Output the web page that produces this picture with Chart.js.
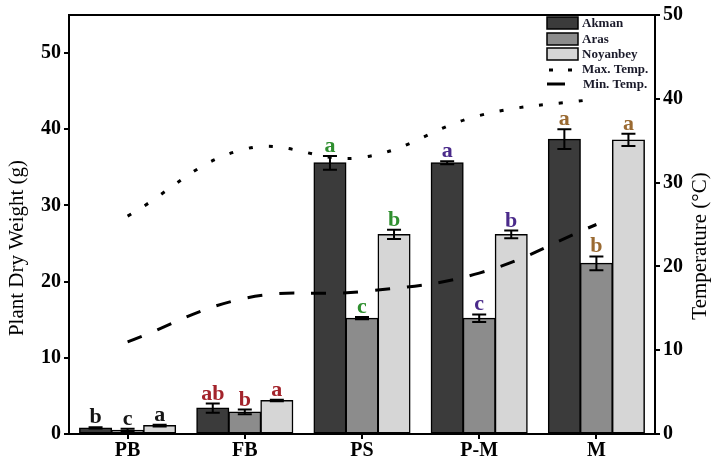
<!DOCTYPE html>
<html><head><meta charset="utf-8">
<script src="https://cdn.jsdelivr.net/npm/chart.js@4.4.1/dist/chart.umd.min.js"></script>
<style>html,body{margin:0;padding:0;background:#fff}#wrap{width:711px;height:459px}</style>
</head><body><div id="wrap"><canvas id="c" width="711" height="459"></canvas></div>
<script>
const categories = ['PB','FB','PS','P-M','M'];
const akman = [0.8, 3.4, 35.6, 35.6, 38.7];
const aras = [0.5, 2.9, 15.2, 15.2, 22.4];
const noyanbey = [1.1, 4.4, 26.2, 26.2, 38.6];
const akmanErr = [0.08, 0.6, 0.9, 0.2, 1.3];
const arasErr = [0.2, 0.3, 0.15, 0.5, 0.9];
const noyanbeyErr = [0.1, 0.1, 0.6, 0.5, 0.8];
const akmanLetters = ['b','ab','a','a','a'];
const arasLetters = ['c','b','c','c','b'];
const noyanbeyLetters = ['a','a','b','b','a'];
const letterColors = ['#151515','#a3232b','#2f8f2f','#4a2a8a','#9a6a32'];
const maxTemp = [26, 34, 33, 38, 40];
const minTemp = [11, 16.2, 17, 19.2, 25];
const leftTicks = [0,10,20,30,40,50];
const rightTicks = [0,10,20,30,40,50];

const errs = [akmanErr, arasErr, noyanbeyErr];
const letters = [akmanLetters, arasLetters, noyanbeyLetters];
const SERIF = '"Liberation Serif","Times New Roman",serif';

const overlay = {
  id:'overlay',
  afterDatasetsDraw(chart){
    const ctx = chart.ctx, ca = chart.chartArea;
    const yS = chart.scales.y;
    for(let d=0; d<3; d++){
      const meta = chart.getDatasetMeta(d);
      meta.data.forEach((bar,i)=>{
        const v = chart.data.datasets[d].data[i];
        const e = errs[d][i];
        const x = bar.x;
        const yt = yS.getPixelForValue(v+e), yb = yS.getPixelForValue(v-e);
        ctx.save();
        ctx.strokeStyle='#000'; ctx.lineWidth=2;
        ctx.beginPath();
        ctx.moveTo(x,yt); ctx.lineTo(x,yb);
        ctx.moveTo(x-7,yt); ctx.lineTo(x+7,yt);
        ctx.moveTo(x-7,yb); ctx.lineTo(x+7,yb);
        ctx.stroke();
        ctx.fillStyle = letterColors[i];
        ctx.font = 'bold 22px '+SERIF;
        ctx.textAlign='center'; ctx.textBaseline='alphabetic';
        ctx.fillText(letters[d][i], x, Math.min(yt, bar.y) - 4);
        ctx.restore();
      });
    }
    ctx.save();
    ctx.strokeStyle='#000'; ctx.lineWidth=2;
    ctx.beginPath(); ctx.moveTo(ca.left, ca.top); ctx.lineTo(ca.right, ca.top); ctx.stroke();
    ctx.fillStyle='#000'; ctx.font='21px '+SERIF; ctx.textAlign='center'; ctx.textBaseline='middle';
    ctx.save(); ctx.translate(17, 248); ctx.rotate(-Math.PI/2); ctx.fillText('Plant Dry Weight (g)',0,0); ctx.restore();
    ctx.save(); ctx.translate(700, 246); ctx.rotate(-Math.PI/2); ctx.fillText('Temperature (°C)',0,0); ctx.restore();
    const lx = 547, tx = 582;
    const fills = ['#3b3b3b','#8c8c8c','#d6d6d6'];
    const names = ['Akman','Aras','Noyanbey'];
    const ys = [17,33,48];
    ctx.font = 'bold 13px '+SERIF; ctx.textBaseline='middle'; ctx.textAlign='left';
    for(let k=0;k<3;k++){
      ctx.fillStyle=fills[k]; ctx.fillRect(lx, ys[k], 31, 12);
      ctx.lineWidth=1.5; ctx.strokeStyle='#000'; ctx.strokeRect(lx, ys[k], 31, 12);
      ctx.fillStyle='#1a1a2a'; ctx.fillText(names[k], tx, ys[k]+7);
    }
    ctx.lineWidth=3; ctx.strokeStyle='#000';
    ctx.beginPath(); ctx.moveTo(549,70); ctx.lineTo(553,70); ctx.moveTo(568,70); ctx.lineTo(572,70); ctx.stroke();
    ctx.beginPath(); ctx.moveTo(547,84); ctx.lineTo(565,84); ctx.stroke();
    ctx.fillStyle='#1a1a2a';
    ctx.fillText('Max. Temp.', 582, 70);
    ctx.fillText('Min. Temp.', 583, 85);
    ctx.restore();
  }
};

const barBase = {borderColor:'#000', borderWidth:1.5, borderSkipped:false, yAxisID:'y', order:2};
const tickFont = {family:SERIF, size:20, weight:'bold'};
new Chart(document.getElementById('c'),{
  type:'bar',
  data:{
    labels:categories,
    datasets:[
      Object.assign({label:'Akman', data:akman, backgroundColor:'#3b3b3b'}, barBase),
      Object.assign({label:'Aras', data:aras, backgroundColor:'#8c8c8c'}, barBase),
      Object.assign({label:'Noyanbey', data:noyanbey, backgroundColor:'#d6d6d6'}, barBase),
      {type:'line', label:'Max. Temp.', data:maxTemp, yAxisID:'y2', borderColor:'#000', borderWidth:3, borderDash:[4,16], pointRadius:0, tension:0.4, fill:false, order:1},
      {type:'line', label:'Min. Temp.', data:minTemp, yAxisID:'y2', borderColor:'#000', borderWidth:3, borderDash:[15,17], pointRadius:0, tension:0.4, fill:false, order:1}
    ]
  },
  options:{
    responsive:false, animation:false, devicePixelRatio:1,
    datasets:{bar:{categoryPercentage:0.82, barPercentage:1.0, inflateAmount:0.5}},
    layout:{padding:{top:13,left:0,right:0,bottom:0}},
    plugins:{legend:{display:false}, tooltip:{enabled:false}},
    scales:{
      x:{
        grid:{display:true, drawOnChartArea:false, drawTicks:true, tickLength:5, color:'#000', lineWidth:2, offset:false},
        border:{display:true, color:'#000', width:2},
        ticks:{color:'#000', font:tickFont, padding:0},
        afterFit(s){ s.height = 25; }
      },
      y:{
        position:'left', min:0, max:55,
        afterBuildTicks(s){ s.ticks = leftTicks.map(v=>({value:v})); },
        grid:{display:true, drawOnChartArea:false, drawTicks:true, tickLength:5, color:'#000', lineWidth:2},
        border:{display:true, color:'#000', width:2},
        ticks:{color:'#000', font:tickFont, padding:3},
        afterFit(s){ s.width = 69; }
      },
      y2:{
        position:'right', min:0, max:50,
        afterBuildTicks(s){ s.ticks = rightTicks.map(v=>({value:v})); },
        grid:{display:true, drawOnChartArea:false, drawTicks:true, tickLength:5, color:'#000', lineWidth:2},
        border:{display:true, color:'#000', width:2},
        ticks:{color:'#000', font:tickFont, padding:3},
        afterFit(s){ s.width = 56; }
      }
    }
  },
  plugins:[overlay]
});
</script></body></html>
